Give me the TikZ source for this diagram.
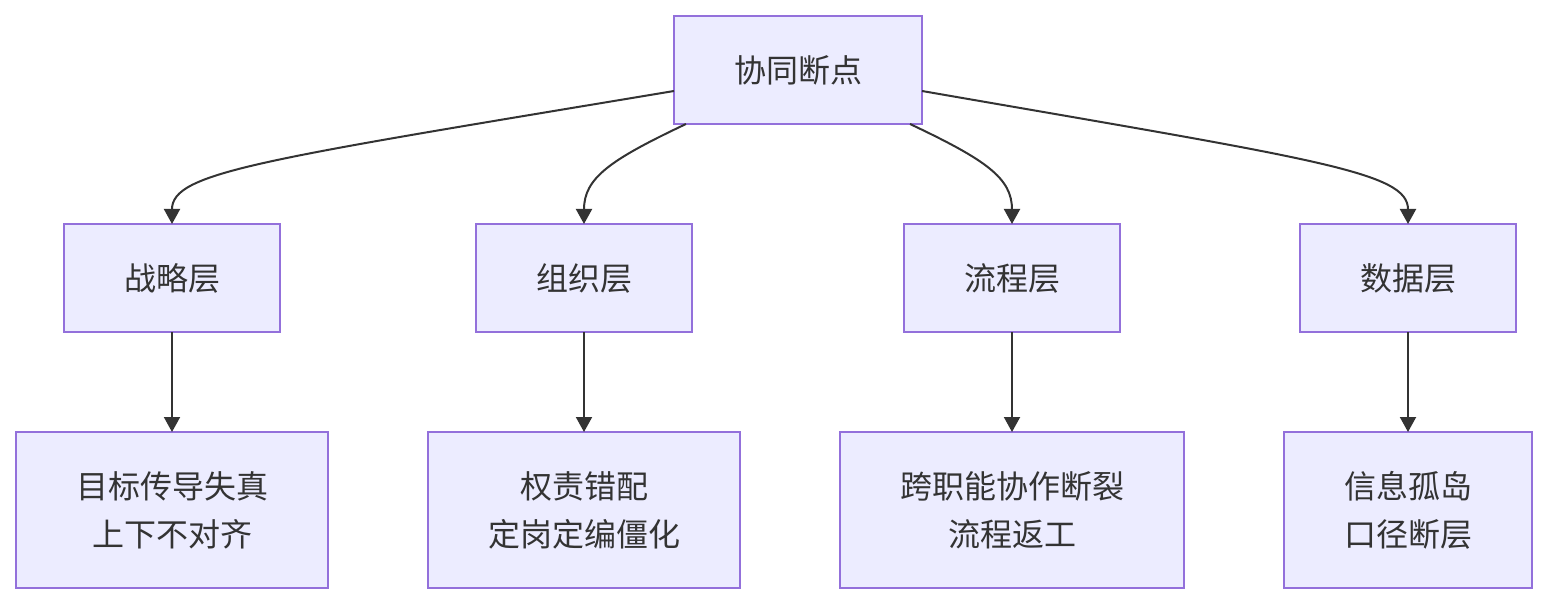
\documentclass[tikz,border=0pt]{standalone}
\usepackage{fontspec}
\newfontfamily\cjk{Noto Sans CJK SC}
\usetikzlibrary{arrows.meta}
\definecolor{boxfill}{HTML}{ECECFF}
\definecolor{boxline}{HTML}{9370DB}
\definecolor{ink}{HTML}{333333}
\tikzset{
  box/.style={draw=boxline, fill=boxfill, line width=2pt, minimum width=#1, inner sep=0pt, outer sep=0pt, align=center, text=ink, font=\cjk\fontsize{32}{48}\selectfont},
  conn/.style={draw=ink, line width=2pt, -{Triangle[width=16pt,length=15pt]}}
}
\begin{document}
\begin{tikzpicture}[x=1pt,y=-1pt]
\useasboundingbox (0,0) rectangle (1548,604);
\node[box=248pt, minimum height=108pt] (top) at (798,70) {协同断点};
\node[box=216pt, minimum height=108pt] (s1) at (172,278) {战略层};
\node[box=216pt, minimum height=108pt] (s2) at (584,278) {组织层};
\node[box=216pt, minimum height=108pt] (s3) at (1012,278) {流程层};
\node[box=216pt, minimum height=108pt] (s4) at (1408,278) {数据层};
\node[box=312pt, minimum height=156pt] (b1) at (172,510) {目标传导失真\\上下不对齐};
\node[box=312pt, minimum height=156pt] (b2) at (584,510) {权责错配\\定岗定编僵化};
\node[box=344pt, minimum height=156pt] (b3) at (1012,510) {跨职能协作断裂\\流程返工};
\node[box=248pt, minimum height=156pt] (b4) at (1408,510) {信息孤岛\\口径断层};
\draw[conn] ([yshift=-21pt]top.west) .. controls (260,160) and (172,172) .. (s1.north);
\draw[conn] ([xshift=12pt]top.south west) .. controls (610,160) and (584,178) .. (s2.north);
\draw[conn] ([xshift=-12pt]top.south east) .. controls (986,160) and (1012,178) .. (s3.north);
\draw[conn] ([yshift=-21pt]top.east) .. controls (1320,160) and (1408,172) .. (s4.north);
\draw[conn] (s1.south) -- (b1.north);
\draw[conn] (s2.south) -- (b2.north);
\draw[conn] (s3.south) -- (b3.north);
\draw[conn] (s4.south) -- (b4.north);
\end{tikzpicture}
\end{document}
